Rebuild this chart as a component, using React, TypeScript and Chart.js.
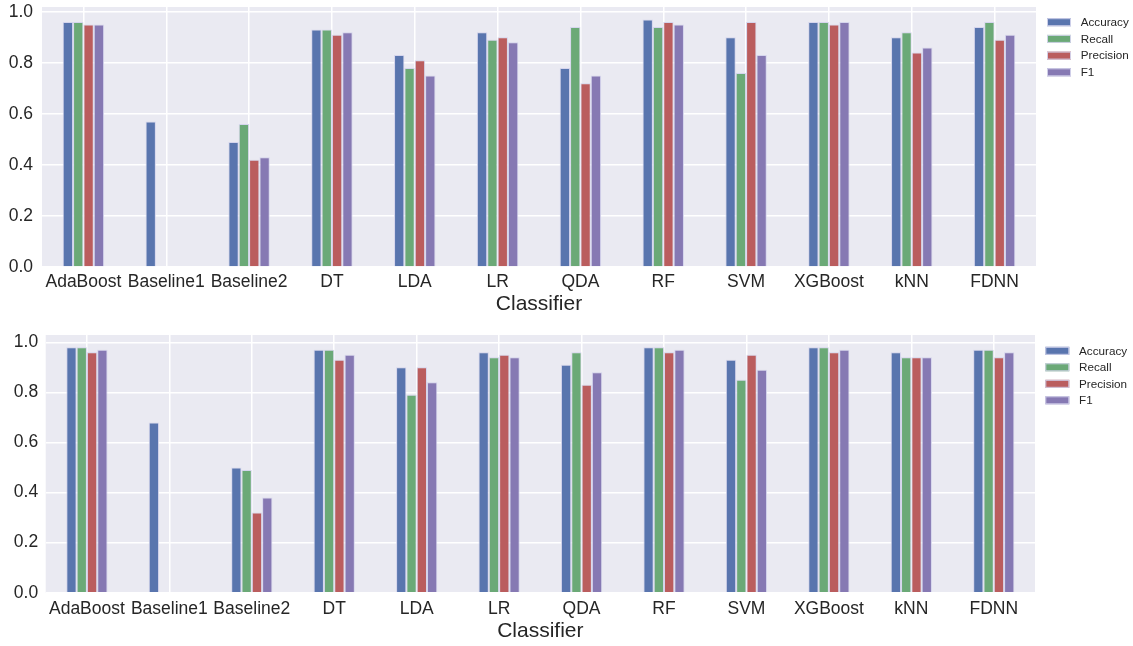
import { useEffect, useRef } from 'react';
import { Chart, registerables } from 'chart.js';

Chart.register(...registerables);

const classifiers = ['AdaBoost', 'Baseline1', 'Baseline2', 'DT', 'LDA', 'LR', 'QDA', 'RF', 'SVM', 'XGBoost', 'kNN', 'FDNN'];
const seriesNames = ['Accuracy', 'Recall', 'Precision', 'F1'];
const xTitle = 'Classifier';

// Top panel
const topAccuracy = [0.96, 0.57, 0.49, 0.93, 0.83, 0.92, 0.78, 0.97, 0.90, 0.96, 0.90, 0.94];
const topRecall = [0.96, null, 0.56, 0.93, 0.78, 0.89, 0.94, 0.94, 0.76, 0.96, 0.92, 0.96];
const topPrecision = [0.95, null, 0.42, 0.91, 0.81, 0.90, 0.72, 0.96, 0.96, 0.95, 0.84, 0.89];
const topF1 = [0.95, null, 0.43, 0.92, 0.75, 0.88, 0.75, 0.95, 0.83, 0.96, 0.86, 0.91];

// Bottom panel
const bottomAccuracy = [0.98, 0.68, 0.50, 0.97, 0.90, 0.96, 0.91, 0.98, 0.93, 0.98, 0.96, 0.97];
const bottomRecall = [0.98, null, 0.49, 0.97, 0.79, 0.94, 0.96, 0.98, 0.85, 0.98, 0.94, 0.97];
const bottomPrecision = [0.96, null, 0.32, 0.93, 0.90, 0.95, 0.83, 0.96, 0.95, 0.96, 0.94, 0.94];
const bottomF1 = [0.97, null, 0.38, 0.95, 0.84, 0.94, 0.88, 0.97, 0.89, 0.97, 0.94, 0.96];

const COLORS = ['#5975AE', '#6BA977', '#BA5D5E', '#8679B3'];
const EDGE = 'rgba(212,212,236,0.95)';
const TEXT = '#262626';
const FONT = '"Liberation Sans", Arial, sans-serif';

type PanelCfg = {
  height: number;
  yWidth: number;
  yPad: number;
  xPad: number;
  titlePad: number;
  top: number;
  right: number;
  xHeight: number;
  yMax: number;
  legendDx: number;
  legendTextDx: number;
  legendY0: number;
  legendStep: number;
};

const bgPlugin = {
  id: 'plotBg',
  beforeDraw(chart: any) {
    const { ctx, chartArea } = chart;
    ctx.save();
    ctx.fillStyle = '#EAEAF2';
    ctx.fillRect(chartArea.left, chartArea.top, chartArea.right - chartArea.left, chartArea.bottom - chartArea.top);
    ctx.restore();
  },
};

const sideLegendPlugin = {
  id: 'sideLegend',
  afterDraw(chart: any, _args: any, opts: any) {
    const { ctx, chartArea } = chart;
    ctx.save();
    chart.data.datasets.forEach((ds: any, i: number) => {
      const y = chartArea.top + opts.y0 + i * opts.step;
      const x = chartArea.right + opts.dx;
      ctx.fillStyle = ds.backgroundColor;
      ctx.fillRect(x, y - 4, 24, 8);
      ctx.strokeStyle = EDGE;
      ctx.lineWidth = 1;
      ctx.strokeRect(x + 0.5, y - 3.5, 23, 7);
      ctx.fillStyle = TEXT;
      ctx.font = `11.7px ${FONT}`;
      ctx.textBaseline = 'middle';
      ctx.textAlign = 'left';
      ctx.fillText(ds.label, chartArea.right + opts.textDx, y + 0.5);
    });
    ctx.restore();
  },
};

function Panel({ series, cfg }: { series: (number | null)[][]; cfg: PanelCfg }) {
  const ref = useRef<HTMLCanvasElement | null>(null);
  useEffect(() => {
    if (!ref.current) return;
    const chart = new Chart(ref.current, {
      type: 'bar',
      data: {
        labels: classifiers,
        datasets: series.map((vals, i) => ({
          label: seriesNames[i],
          data: vals,
          backgroundColor: COLORS[i],
          borderColor: EDGE,
          borderWidth: 1,
          categoryPercentage: 0.5,
          barPercentage: 1.0,
        })),
      },
      options: {
        animation: false,
        responsive: false,
        events: [],
        layout: { padding: { top: cfg.top, right: cfg.right, left: 0, bottom: 0 } },
        plugins: {
          legend: { display: false },
          tooltip: { enabled: false },
          sideLegend: { dx: cfg.legendDx, textDx: cfg.legendTextDx, y0: cfg.legendY0, step: cfg.legendStep },
        } as any,
        scales: {
          x: {
            type: 'category',
            offset: true,
            grid: { offset: false, color: '#FFFFFF', lineWidth: 1.5, drawTicks: false },
            border: { display: false },
            ticks: { color: TEXT, font: { family: FONT, size: 17.5 }, padding: cfg.xPad, maxRotation: 0, autoSkip: false },
            title: {
              display: true,
              text: xTitle,
              color: TEXT,
              font: { family: FONT, size: 21 },
              padding: { top: 0, bottom: cfg.titlePad },
            },
            afterFit: (s: any) => {
              s.height = cfg.xHeight;
              s.paddingLeft = 0;
              s.paddingRight = 0;
              s.paddingTop = 0;
              s.paddingBottom = 0;
            },
          },
          y: {
            type: 'linear',
            min: 0,
            max: cfg.yMax,
            grid: { color: '#FFFFFF', lineWidth: 1.5, drawTicks: false },
            border: { display: false },
            ticks: {
              stepSize: 0.2,
              includeBounds: false,
              color: TEXT,
              font: { family: FONT, size: 17.5 },
              padding: cfg.yPad,
              callback: (v: any) => Number(v).toFixed(1),
            },
            afterFit: (s: any) => {
              s.width = cfg.yWidth;
              s.paddingTop = 0;
              s.paddingBottom = 0;
              s.paddingLeft = 0;
              s.paddingRight = 0;
            },
          },
        },
      },
      plugins: [bgPlugin, sideLegendPlugin],
    });
    return () => chart.destroy();
  }, []);
  return <canvas ref={ref} width={1133} height={cfg.height} style={{ display: 'block', width: 1133, height: cfg.height }} />;
}

const topCfg: PanelCfg = {
  height: 320, yWidth: 42, yPad: 9, xPad: 5, titlePad: 3, top: 7, right: 97, xHeight: 53,
  yMax: 1.0185, legendDx: 11, legendTextDx: 44.7, legendY0: 15.2, legendStep: 16.7,
};
const bottomCfg: PanelCfg = {
  height: 326, yWidth: 45.7, yPad: 7.5, xPad: 5.8, titlePad: 2.6, top: 15, right: 98, xHeight: 53.3,
  yMax: 1.029, legendDx: 10.3, legendTextDx: 44, legendY0: 15.8, legendStep: 16.5,
};

export default function App() {
  return (
    <div style={{ position: 'absolute', left: 0, top: 0, width: 1133, height: 646, background: '#FFFFFF' }}>
      <Panel series={[topAccuracy, topRecall, topPrecision, topF1]} cfg={topCfg} />
      <Panel series={[bottomAccuracy, bottomRecall, bottomPrecision, bottomF1]} cfg={bottomCfg} />
    </div>
  );
}
